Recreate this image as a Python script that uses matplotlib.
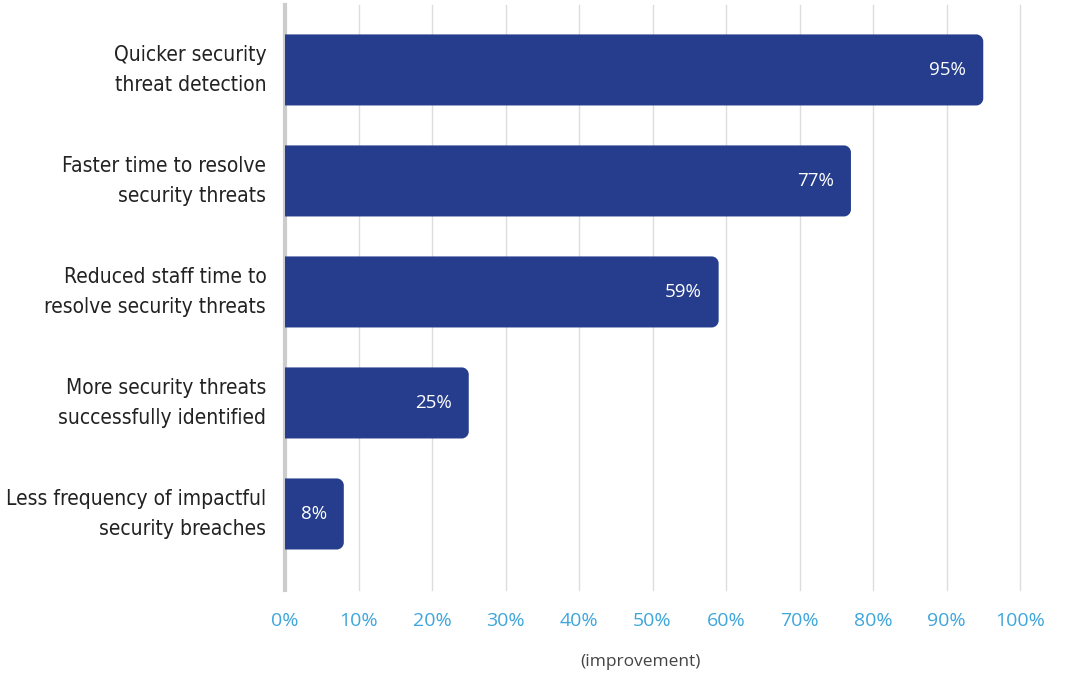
import numpy as np
import matplotlib.pyplot as plt
from matplotlib.path import Path
from matplotlib.patches import PathPatch

categories = ["Quicker security\nthreat detection",
              "Faster time to resolve\nsecurity threats",
              "Reduced staff time to\nresolve security threats",
              "More security threats\nsuccessfully identified",
              "Less frequency of impactful\nsecurity breaches"]
values = [95, 77, 59, 25, 8]
ticks = [0, 10, 20, 30, 40, 50, 60, 70, 80, 90, 100]

bar_color = "#253d8c"
tick_color = "#3ea6dc"

fig = plt.figure(figsize=(10.66, 6.73), dpi=100)
ax = fig.add_axes([285/1066, 1 - 590/673, 735/1066, 585/673])
ax.set_xlim(0, 100)
ax.set_ylim(4.685, -0.585)

# pixels per data unit, for rounded corners
px_x = 735 / 100
px_y = 585 / (4.685 + 0.585)
r = 7
rx, ry = r / px_x, r / px_y
k = 0.5523

h = 0.64
for i, v in enumerate(values):
    y0, y1 = i - h / 2, i + h / 2
    verts = [(0, y0), (v - rx, y0),
             (v - rx + k * rx, y0), (v, y0 + ry - k * ry), (v, y0 + ry),
             (v, y1 - ry),
             (v, y1 - ry + k * ry), (v - rx + k * rx, y1), (v - rx, y1),
             (0, y1), (0, y0)]
    codes = [Path.MOVETO, Path.LINETO,
             Path.CURVE4, Path.CURVE4, Path.CURVE4,
             Path.LINETO,
             Path.CURVE4, Path.CURVE4, Path.CURVE4,
             Path.LINETO, Path.CLOSEPOLY]
    ax.add_patch(PathPatch(Path(verts, codes), facecolor=bar_color,
                           edgecolor="none", zorder=3))
    ax.annotate(f"{v}%", xy=(v, i), xytext=(-17, 0), textcoords="offset pixels",
                ha="right", va="center", color="white", fontsize=13.5,
                family=["Open Sans", "DejaVu Sans"], zorder=4)

ax.set_xticks(ticks)
ax.set_xticklabels([f"{t}%" for t in ticks], color=tick_color, fontsize=14,
                   family=["Open Sans", "DejaVu Sans"])
ax.set_yticks(range(len(categories)))
ax.set_yticklabels(categories, fontsize=15, color="#222222",
                   family="DejaVu Sans", fontstretch="condensed",
                   linespacing=1.6)
for lbl in ax.get_yticklabels():
    lbl.set_va("center")
ax.tick_params(axis="both", length=0)
ax.tick_params(axis="x", pad=16)
ax.tick_params(axis="y", pad=13.5)

for t in ticks[1:]:
    ax.axvline(t, color="#dddddd", linewidth=1.0, zorder=1, clip_on=False)
for s in ["top", "right", "bottom"]:
    ax.spines[s].set_visible(False)
ax.spines["left"].set_color("#cccccc")
ax.spines["left"].set_linewidth(3)

fig.text(640 / 1066, 1 - 662 / 673, "(improvement)", ha="center", va="center",
         fontsize=12.5, color="#444444", family=["Open Sans", "DejaVu Sans"])

plt.savefig("out.png", dpi=100)
